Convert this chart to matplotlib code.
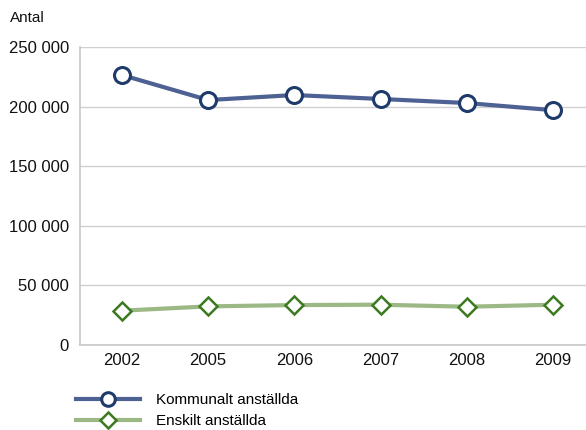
import matplotlib
matplotlib.use("Agg")
import matplotlib.pyplot as plt
from matplotlib.ticker import FuncFormatter

years = ["2002", "2005", "2006", "2007", "2008", "2009"]
kommunalt = [226500, 205500, 209700, 206400, 203000, 197000]
enskilt = [28800, 32400, 33500, 33800, 32100, 33800]
series_labels = ["Kommunalt anställda", "Enskilt anställda"]
yticks = [0, 50000, 100000, 150000, 200000, 250000]

plt.rcParams['font.family'] = ['Liberation Sans', 'DejaVu Sans']

fig = plt.figure(figsize=(5.86, 4.30), dpi=100)
ax = fig.add_axes([80/586, 1-345/430, 506/586, 298/430])

x = list(range(len(years)))
l1, = ax.plot(x, kommunalt, color="#4d6193", lw=3, marker="o", ms=11.5,
              mfc="white", mec="#1f3b6b", mew=2.2, label=series_labels[0], zorder=3)
l2, = ax.plot(x, enskilt, color="#9bb885", lw=3, marker="D", ms=9,
              mfc="white", mec="#3d7a1f", mew=1.8, label=series_labels[1], zorder=3)

ax.set_xlim(-0.487, len(years) - 1 + 0.383)
ax.set_ylim(0, 250000)
ax.set_xticks(x)
ax.set_xticklabels(years)
ax.set_yticks(yticks)
ax.yaxis.set_major_formatter(FuncFormatter(lambda v, p: f"{int(v):,}".replace(",", " ")))
ax.tick_params(length=0, labelsize=12, colors="#111111")
ax.tick_params(axis="x", pad=6)
ax.tick_params(axis="y", pad=8)
ax.grid(axis="y", color="#d0d0d0", lw=1)
ax.set_axisbelow(True)
for s in ["top", "right"]:
    ax.spines[s].set_visible(False)
for s in ["left", "bottom"]:
    ax.spines[s].set_color("#c8c8c8")
    ax.spines[s].set_linewidth(1.2)

fig.text(10/586, 1-18/430, "Antal", fontsize=11, va="center", ha="left", color="#111111")

fig.legend(handles=[l1, l2], loc="upper left", bbox_to_anchor=(70/586, 1-387/430),
           frameon=False, fontsize=11, handlelength=4.2, labelspacing=0.45,
           handletextpad=1.0, borderaxespad=0, markerscale=0.85)

fig.savefig("out.png", dpi=100)
